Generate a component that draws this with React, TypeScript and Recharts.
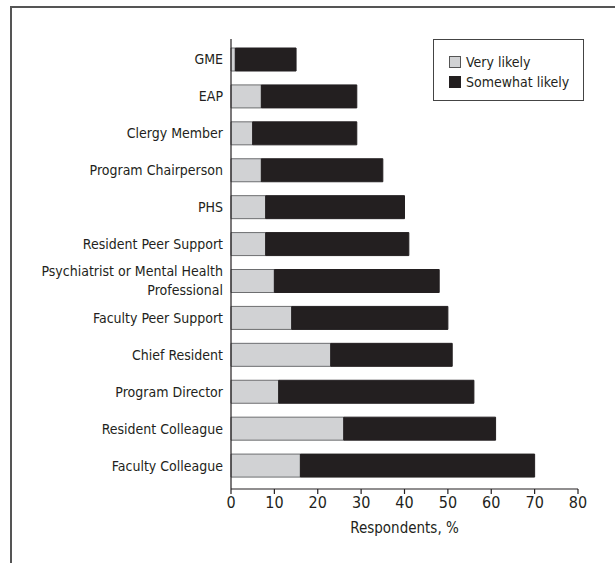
import React from 'react'
import { BarChart, Bar, XAxis, YAxis } from 'recharts'

const categories = [
  'GME',
  'EAP',
  'Clergy Member',
  'Program Chairperson',
  'PHS',
  'Resident Peer Support',
  'Psychiatrist or Mental Health Professional',
  'Faculty Peer Support',
  'Chief Resident',
  'Program Director',
  'Resident Colleague',
  'Faculty Colleague',
]
const veryLikely = [1, 7, 5, 7, 8, 8, 10, 14, 23, 11, 26, 16]
const somewhatLikely = [14, 22, 24, 28, 32, 33, 38, 36, 28, 45, 35, 54]
const xTicks = [0, 10, 20, 30, 40, 50, 60, 70, 80]

const LIGHT = '#d1d2d4'
const DARK = '#231f20'
const FONT = '"Liberation Sans Narrow", "DejaVu Sans Condensed", sans-serif'

const data = categories.map((name, i) => ({
  name,
  very: veryLikely[i],
  somewhat: somewhatLikely[i],
}))

// two-line label for the long category
const lineBreaks: Record<string, string[]> = {
  'Psychiatrist or Mental Health Professional': ['Psychiatrist or Mental Health', 'Professional'],
}

function CategoryTick({ x, y, payload }: any) {
  const lines = lineBreaks[payload.value] || [payload.value]
  const lh = 19
  const start = -((lines.length - 1) * lh) / 2
  return (
    <text x={x} y={y} textAnchor="end" fill="#231f20" fontSize={14} fontFamily={FONT}>
      {lines.map((l, i) => (
        <tspan key={i} x={x} dy={i === 0 ? start + 5 : lh}>
          {l}
        </tspan>
      ))}
    </text>
  )
}

function LegendBox() {
  const items = [
    { label: 'Very likely', color: LIGHT, stroke: '#555' },
    { label: 'Somewhat likely', color: DARK, stroke: DARK },
  ]
  return (
    <div
      style={{
        position: 'absolute',
        left: 433,
        top: 39,
        border: '1.5px solid #444',
        width: 151,
        height: 62,
        boxSizing: 'border-box',
        padding: '12px 0 0 15px',
        fontFamily: FONT,
        fontSize: 14,
        color: '#231f20',
        background: '#fff',
      }}
    >
      {items.map((it) => (
        <div key={it.label} style={{ display: 'flex', alignItems: 'center', height: 20 }}>
          <span
            style={{
              width: 10,
              height: 10,
              background: it.color,
              border: `1px solid ${it.stroke}`,
              marginRight: 5,
              display: 'inline-block',
            }}
          />
          {it.label}
        </div>
      ))}
    </div>
  )
}

export default function App() {
  return (
    <div style={{ position: 'absolute', left: 0, top: 0, width: 615, height: 563, background: '#fff' }}>
      <div
        style={{
          position: 'absolute',
          left: 10,
          top: 6,
          width: 605,
          height: 557,
          borderTop: '2px solid #555',
          borderLeft: '2px solid #555',
        }}
      />
      <div style={{ position: 'absolute', left: 0, top: 0 }}>
        <BarChart
          width={615}
          height={563}
          data={data}
          layout="vertical"
          margin={{ top: 39, right: 37, bottom: 0, left: 0 }}
        >
          <XAxis
            type="number"
            domain={[0, 80]}
            ticks={xTicks}
            interval={0}
            axisLine={{ stroke: '#231f20', strokeWidth: 1.2 }}
            tickLine={{ stroke: '#231f20', strokeWidth: 1.2 }}
            tickSize={5}
            tickMargin={3}
            tick={{ fill: '#231f20', fontSize: 16, fontFamily: FONT }}
            label={{
              value: 'Respondents, %',
              position: 'insideTop',
              offset: 33,
              fill: '#231f20',
              fontSize: 15,
              fontFamily: FONT,
            }}
            height={74}
          />
          <YAxis
            type="category"
            dataKey="name"
            width={231}
            axisLine={{ stroke: '#231f20', strokeWidth: 1.2 }}
            tickLine={false}
            tickSize={0}
            tickMargin={8}
            interval={0}
            padding={{ top: 2, bottom: 5 }}
            tick={<CategoryTick />}
          />
          <Bar
            dataKey="very"
            stackId="a"
            name="Very likely"
            fill={LIGHT}
            stroke="#6d6e70"
            strokeWidth={1}
            barSize={23}
            isAnimationActive={false}
          />
          <Bar
            dataKey="somewhat"
            stackId="a"
            name="Somewhat likely"
            fill={DARK}
            stroke={DARK}
            strokeWidth={1}
            barSize={23}
            isAnimationActive={false}
          />
        </BarChart>
      </div>
      <LegendBox />
    </div>
  )
}
